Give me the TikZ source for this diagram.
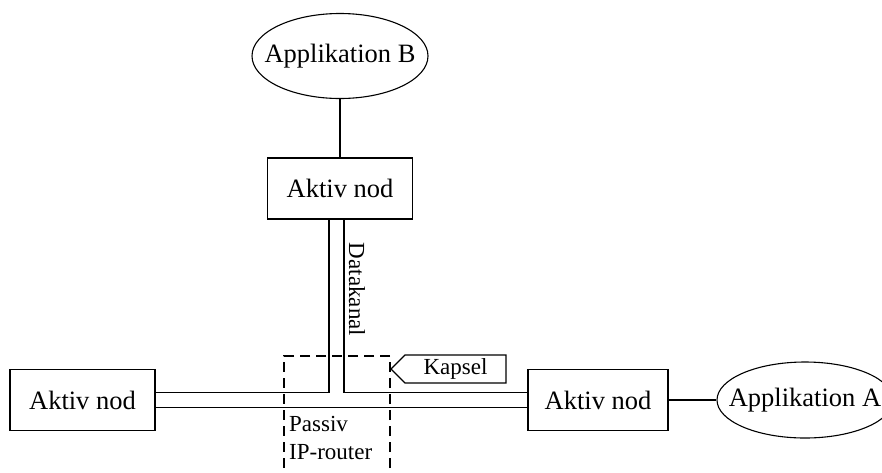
\documentclass[tikz,border=0pt]{standalone}
\usepackage{fontspec}
\setmainfont{Liberation Serif}
\usepackage{tikz}
\usetikzlibrary{positioning,calc,shapes.geometric,shapes.symbols}
\tikzset{
  nodbox/.style={
    draw,
    line width=1.1pt,
    minimum width=145pt,
    minimum height=61pt,
    inner sep=0pt,
    font=\fontsize{26.5}{30}\selectfont
  },
  appell/.style={
    ellipse,
    draw,
    line width=1.1pt,
    minimum width=176pt,
    inner xsep=-20pt,
    inner ysep=0pt,
    font=\fontsize{26.5}{30}\selectfont
  },
  kapselbox/.style={
    signal,
    signal to=west,
    draw,
    line width=1.1pt,
    minimum width=115pt,
    minimum height=28pt,
    inner sep=0pt,
    font=\fontsize{23}{26}\selectfont
  },
  label/.style={
    inner sep=0pt,
    font=\fontsize{23}{28}\selectfont
  },
  chan/.style={
    line width=1.1pt
  },
  dashbox/.style={
    draw,
    line width=1.1pt,
    dash pattern=on 10pt off 6pt,
    minimum width=106pt,
    minimum height=134pt,
    inner sep=0pt
  }
}

\begin{document}
\begin{tikzpicture}[x=1pt,y=-1pt]
\useasboundingbox (0,0) rectangle (882,472);
\clip (0,0) rectangle (882,472);
\node[appell, minimum height=85pt] (appB) at (340,56) {Applikation B};
\node[nodbox] (top) at (340,188.5) {Aktiv nod};
\node[nodbox] (left) at (82.5,400) {Aktiv nod};
\node[nodbox, minimum width=140pt] (right) at (598,400) {Aktiv nod};
\node[appell, minimum height=76pt] (appA) at (805,400) {Applikation A};
\node[dashbox] (router) at (337,423) {};
\node[label, align=left, anchor=west] (rtext) at (289,438) {Passiv\\IP-router};
\node[kapselbox] (kapsel) at (455.5,369) {Kapsel};
\node[label, rotate=-90] (dk) at (357,289.5) {Datakanal};
% links
\draw[chan] (appB) -- (top);
\draw[chan] (right) -- (appA);
% data channel
\draw[chan] ([yshift=7.5pt]left.east) -| ([xshift=-11pt]top.south);
\draw[chan] ([xshift=4pt]top.south) |- ([yshift=7.5pt]right.west);
\draw[chan] ([yshift=-7.5pt]left.east) -- ([yshift=-7.5pt]right.west);
\end{tikzpicture}
\end{document}
